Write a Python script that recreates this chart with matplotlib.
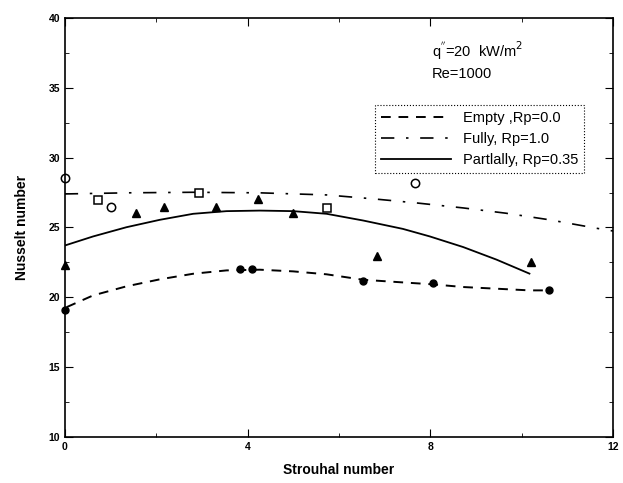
import matplotlib
matplotlib.use("Agg")
import matplotlib.pyplot as plt
import numpy as np
from matplotlib.ticker import MultipleLocator

# curve data
empty_x = [0.04, 0.62, 1.35, 2.08, 2.81, 3.54, 4.27, 5.0, 5.73, 6.53, 7.26, 8.06, 8.72, 9.45, 10.17, 10.61]
empty_y = [19.3, 20.14, 20.79, 21.29, 21.69, 21.93, 21.98, 21.86, 21.65, 21.26, 21.1, 20.93, 20.74, 20.62, 20.5, 20.5]

fully_x = [0.0, 1.35, 2.81, 4.27, 5.73, 6.75, 7.69, 8.72, 9.66, 10.61, 11.63, 12.0]
fully_y = [27.4, 27.48, 27.52, 27.48, 27.33, 27.05, 26.76, 26.4, 26.02, 25.55, 24.95, 24.75]

part_x = [0.0, 0.62, 1.35, 2.08, 2.81, 3.54, 4.27, 5.0, 5.73, 6.53, 7.4, 7.99, 8.72, 9.45, 10.17]
part_y = [23.71, 24.36, 25.02, 25.55, 25.98, 26.17, 26.21, 26.17, 25.98, 25.5, 24.9, 24.36, 23.6, 22.7, 21.7]

# measured points
empty_pts_x = [0.0, 3.83, 4.1, 6.53, 8.06, 10.6]
empty_pts_y = [19.1, 22.0, 22.0, 21.15, 21.0, 20.5]

part_pts_x = [0.0, 1.55, 2.17, 3.32, 4.22, 5.0, 6.84, 10.2]
part_pts_y = [22.3, 26.05, 26.5, 26.5, 27.05, 26.05, 22.95, 22.55]

fully_sq_x = [0.73, 2.94, 5.73]
fully_sq_y = [27.0, 27.5, 26.4]
fully_circ_x = [0.0, 1.02, 7.66]
fully_circ_y = [28.55, 26.5, 28.2]

plt.rcParams['font.family'] = ['Liberation Sans', 'DejaVu Sans']

fig = plt.figure(figsize=(6.23, 4.83), dpi=100)
ax = fig.add_axes([0.104, 0.095, 0.880, 0.868])

ax.plot(empty_x, empty_y, color='black', lw=1.4, ls=(0, (5, 4)),
        label='Empty ,Rp=0.0')
ax.plot(fully_x, fully_y, color='black', lw=1.2, ls=(0, (8, 7, 1.5, 7)),
        label='Fully, Rp=1.0')
ax.plot(part_x, part_y, color='black', lw=1.3, ls='-',
        label='Partlally, Rp=0.35')

ax.plot(empty_pts_x, empty_pts_y, 'o', color='black', ms=5, clip_on=False)
ax.plot(part_pts_x, part_pts_y, '^', color='black', ms=6, clip_on=False)
ax.plot(fully_sq_x, fully_sq_y, 's', mfc='white', mec='black', ms=6, mew=1.1, clip_on=False)
ax.plot(fully_circ_x, fully_circ_y, 'o', mfc='white', mec='black', ms=6, mew=1.1, clip_on=False)

ax.set_xlim(0, 12)
ax.set_ylim(10, 40)
ax.xaxis.set_major_locator(MultipleLocator(4))
ax.xaxis.set_minor_locator(MultipleLocator(2))
ax.yaxis.set_major_locator(MultipleLocator(5))
ax.yaxis.set_minor_locator(MultipleLocator(2.5))
ax.tick_params(which='both', direction='in', top=True, right=True)
ax.tick_params(which='major', length=6, labelsize=7.5)
ax.tick_params(which='minor', length=3)
for lab in ax.get_xticklabels() + ax.get_yticklabels():
    lab.set_fontweight('bold')
for sp in ax.spines.values():
    sp.set_linewidth(1.2)

ax.set_xlabel('Strouhal number', fontsize=10, fontweight='bold', labelpad=8)
ax.set_ylabel('Nusselt number', fontsize=10, fontweight='bold', labelpad=14)

ax.text(8.03, 37.6, r"q$^{''}$=20  kW/m$^2$", fontsize=10.5, va='center')
ax.text(8.03, 36.0, 'Re=1000', fontsize=10.5, va='center')

leg = ax.legend(loc='upper left', bbox_to_anchor=(0.566, 0.792), fontsize=10.5,
                handlelength=4.8, handletextpad=0.8, labelspacing=0.5,
                borderpad=0.4, borderaxespad=0, fancybox=False, framealpha=1)
leg.get_frame().set_linestyle(':')
leg.get_frame().set_edgecolor('black')
leg.get_frame().set_linewidth(0.8)

fig.savefig('out.png', dpi=100)
